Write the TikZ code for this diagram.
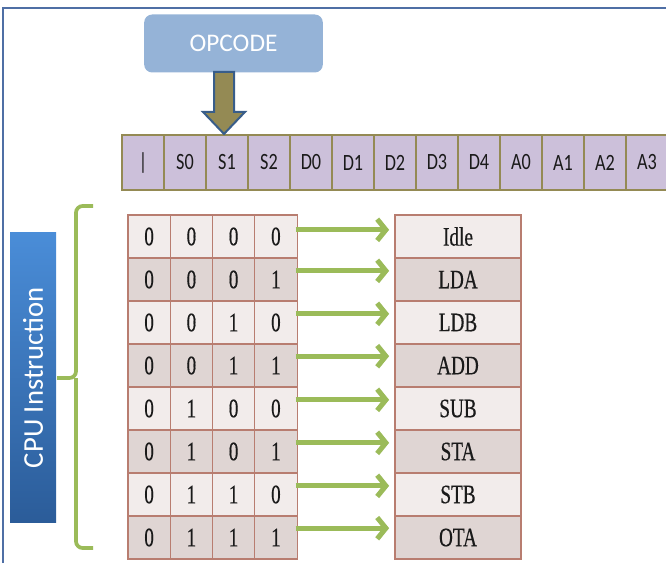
\documentclass[tikz,border=0pt]{standalone}
\usepackage{fontspec}
\usepackage{tikz}
\usetikzlibrary{arrows.meta,positioning,calc}
\newfontfamily\calib{Carlito}
\newfontfamily\calibn[FakeStretch=0.78]{Carlito}
\newfontfamily\cambr[FakeStretch=0.72,FakeBold=0.4]{Liberation Serif}
\definecolor{opblue}{HTML}{95B3D7}
\definecolor{frameln}{HTML}{4F6FA5}
\definecolor{olive}{HTML}{948A54}
\definecolor{navyln}{HTML}{385D8A}
\definecolor{lavend}{HTML}{CCC0DA}
\definecolor{cputop}{HTML}{4A8DD8}
\definecolor{cpubot}{HTML}{2B5C99}
\definecolor{leaf}{HTML}{9BBB59}
\definecolor{rowlt}{HTML}{F2ECEB}
\definecolor{rowdk}{HTML}{DFD5D3}
\definecolor{rowln}{HTML}{B87D70}
\definecolor{ink}{HTML}{1A1A1A}
\tikzset{
  regcell/.style={draw=olive,line width=1.6pt,fill=lavend,minimum width=31.5pt,
              minimum height=41.25pt,inner sep=0pt,font=\calibn\fontsize{17.5}{19}\selectfont,text=ink},
  bitlt/.style={draw=rowln,line width=0.8pt,fill=rowlt,minimum width=31.7pt,
              minimum height=32.25pt,inner sep=0pt,font=\cambr\fontsize{20}{22}\selectfont,text=ink},
  bitdk/.style={bitlt,fill=rowdk},
  oplt/.style={draw=rowln,line width=0.8pt,fill=rowlt,minimum width=94.5pt,
              minimum height=32.25pt,inner sep=0pt,font=\cambr\fontsize{20}{22}\selectfont,text=ink},
  opdk/.style={oplt,fill=rowdk},
  mapto/.style={-{Straight Barb[length=6.5pt,width=16pt]},line width=3.8pt,draw=leaf},
}

\begin{document}
\begin{tikzpicture}[x=0.75pt,y=-0.75pt,
  frame/.style={draw=frameln,line width=1.2pt},
  opbox/.style={fill=opblue,rounded corners=6pt,minimum width=134pt,minimum height=43.5pt,
              font=\calib\fontsize{19}{21}\selectfont,text=white},
  blkarrow/.style={fill=olive,draw=navyln,line width=1.5pt,line join=miter},
  cpubox/.style={top color=cputop,bottom color=cpubot,minimum width=218pt,minimum height=34.5pt,
              font=\calib\fontsize{21.5}{23}\selectfont,text=white,rotate=90},
  brace/.style={draw=leaf,line width=2.8pt,rounded corners=5pt}]

  \useasboundingbox (0,0) rectangle (666,563);
  \draw[frame] (3,563) -- (3,8) -- (666,8);

  % ---- opcode ----
  \node[opbox] (opcode) at (233.5,43.5) {OPCODE};

  % ---- instruction register ----
  \node[regcell] (s)  at (143,162.5) {|};
  \node[regcell] (s0) at (185,162.5) {S0};
  \node[regcell] (s1) at (227,162.5) {S1};
  \node[regcell] (s2) at (269,162.5) {S2};
  \node[regcell] (d0) at (311,162.5) {D0};
  \node[regcell] (d1) at (353,162.5) {D1};
  \node[regcell] (d2) at (395,162.5) {D2};
  \node[regcell] (d3) at (437,162.5) {D3};
  \node[regcell] (d4) at (479,162.5) {D4};
  \node[regcell] (a0) at (521,162.5) {A0};
  \node[regcell] (a1) at (563,162.5) {A1};
  \node[regcell] (a2) at (605,162.5) {A2};
  \node[regcell] (a3) at (647,162.5) {A3};

  \draw[blkarrow] ([xshift=-2.25pt]s1.north) -- ++(-21,-22) -- ++(11,0) -- ++(0,-40)
    -- ++(20,0) -- ++(0,40) -- ++(11,0) -- cycle;

  % ---- cpu instruction ----
  \node[cpubox] (cpu) at (33,377.5) {CPU Instruction};
  \draw[brace] (93,206) -| (76,378) -- (57,378);
  \draw[brace] (93,548) -| (76,378);

  % ---- opcode bits ----
  \node[bitlt] (c11) at (149.1,236.5) {0};
  \node[bitlt] (c12) at (191.4,236.5) {0};
  \node[bitlt] (c13) at (233.6,236.5) {0};
  \node[bitlt] (c14) at (275.9,236.5) {0};
  \node[bitdk] (c21) at (149.1,279.5) {0};
  \node[bitdk] (c22) at (191.4,279.5) {0};
  \node[bitdk] (c23) at (233.6,279.5) {0};
  \node[bitdk] (c24) at (275.9,279.5) {1};
  \node[bitlt] (c31) at (149.1,322.5) {0};
  \node[bitlt] (c32) at (191.4,322.5) {0};
  \node[bitlt] (c33) at (233.6,322.5) {1};
  \node[bitlt] (c34) at (275.9,322.5) {0};
  \node[bitdk] (c41) at (149.1,365.5) {0};
  \node[bitdk] (c42) at (191.4,365.5) {0};
  \node[bitdk] (c43) at (233.6,365.5) {1};
  \node[bitdk] (c44) at (275.9,365.5) {1};
  \node[bitlt] (c51) at (149.1,408.5) {0};
  \node[bitlt] (c52) at (191.4,408.5) {1};
  \node[bitlt] (c53) at (233.6,408.5) {0};
  \node[bitlt] (c54) at (275.9,408.5) {0};
  \node[bitdk] (c61) at (149.1,451.5) {0};
  \node[bitdk] (c62) at (191.4,451.5) {1};
  \node[bitdk] (c63) at (233.6,451.5) {0};
  \node[bitdk] (c64) at (275.9,451.5) {1};
  \node[bitlt] (c71) at (149.1,494.5) {0};
  \node[bitlt] (c72) at (191.4,494.5) {1};
  \node[bitlt] (c73) at (233.6,494.5) {1};
  \node[bitlt] (c74) at (275.9,494.5) {0};
  \node[bitdk] (c81) at (149.1,537.5) {0};
  \node[bitdk] (c82) at (191.4,537.5) {1};
  \node[bitdk] (c83) at (233.6,537.5) {1};
  \node[bitdk] (c84) at (275.9,537.5) {1};

  % ---- operations ----
  \node[oplt] (idle) at (458,236.5) {Idle};
  \node[opdk] (lda)  at (458,279.5) {LDA};
  \node[oplt] (ldb)  at (458,322.5) {LDB};
  \node[opdk] (add)  at (458,365.5) {ADD};
  \node[oplt] (sub)  at (458,408.5) {SUB};
  \node[opdk] (sta)  at (458,451.5) {STA};
  \node[oplt] (stb)  at (458,494.5) {STB};
  \node[opdk] (ota)  at (458,537.5) {OTA};

  % ---- decode ----
  \draw[mapto] ([xshift=-1.5pt,yshift=5pt]c14.east) -- ([xshift=-4pt,yshift=5pt]idle.west);
  \draw[mapto] ([xshift=-1.5pt,yshift=6.5pt]c24.east) -- ([xshift=-4pt,yshift=6.5pt]lda.west);
  \draw[mapto] ([xshift=-1.5pt,yshift=6.5pt]c34.east) -- ([xshift=-4pt,yshift=6.5pt]ldb.west);
  \draw[mapto] ([xshift=-1.5pt,yshift=7pt]c44.east) -- ([xshift=-4pt,yshift=7pt]add.west);
  \draw[mapto] ([xshift=-1.5pt,yshift=6.5pt]c54.east) -- ([xshift=-4pt,yshift=6.5pt]sub.west);
  \draw[mapto] ([xshift=-1.5pt,yshift=6.5pt]c64.east) -- ([xshift=-4pt,yshift=6.5pt]sta.west);
  \draw[mapto] ([xshift=-1.5pt,yshift=6.5pt]c74.east) -- ([xshift=-4pt,yshift=6.5pt]stb.west);
  \draw[mapto] ([xshift=-1.5pt,yshift=7pt]c84.east) -- ([xshift=-4pt,yshift=7pt]ota.west);
\end{tikzpicture}
\end{document}
